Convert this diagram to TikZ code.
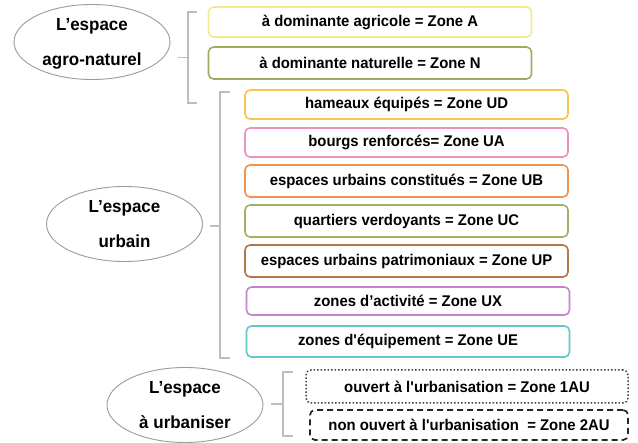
\documentclass[tikz,border=0pt]{standalone}
\usepackage{fontspec}
\setmainfont{Liberation Sans}
\usetikzlibrary{shapes.geometric}
\definecolor{cA}{HTML}{F3EA8C}
\definecolor{cN}{HTML}{9CAE5E}
\definecolor{cUD}{HTML}{F8C44E}
\definecolor{cUA}{HTML}{EF8FBC}
\definecolor{cUB}{HTML}{EE9550}
\definecolor{cUC}{HTML}{9DB463}
\definecolor{cUP}{HTML}{B07A48}
\definecolor{cUX}{HTML}{C386CB}
\definecolor{cUE}{HTML}{62C6CB}
\definecolor{brk}{HTML}{BDBDBD}
\definecolor{ell}{HTML}{9A9A9A}
\begin{document}
\begin{tikzpicture}[x=1pt,y=-1pt,
  zone/.style={draw=#1, line width=1.6pt, rounded corners=5pt, minimum width=323pt, inner sep=0pt,
    font=\bfseries\fontsize{15.5}{17}\selectfont\addfontfeatures{FakeStretch=0.96}},
  space/.style={draw=ell, line width=0.9pt, ellipse, minimum width=156pt, minimum height=75pt, inner sep=0pt,
    align=center, text depth=-8pt, font=\bfseries\fontsize{17.5}{34.5}\selectfont\addfontfeatures{FakeStretch=0.97}},
  bracket/.style={draw=brk, line width=1.4pt}]
\useasboundingbox (0,0) rectangle (638,443);
% ellipses
\node[space] (e1) at (92,42) {L’espace\\agro-naturel};
\node[space] (e2) at (124.5,224) {L’espace\\urbain};
\node[space] (e3) at (185,405) {L’espace\\à urbaniser};
% boxes
\node[zone=cA, minimum height=30pt] (zA) at (370,22) {à dominante agricole = Zone A};
\node[zone=cN, minimum height=32pt] (zN) at (370,63) {à dominante naturelle = Zone N};
\node[zone=cUD, minimum height=29pt] (zUD) at (406.5,104.5) {hameaux équipés = Zone UD};
\node[zone=cUA, minimum height=29pt] (zUA) at (406.5,142.5) {bourgs renforcés= Zone UA};
\node[zone=cUB, minimum height=32pt] (zUB) at (406.5,181) {espaces urbains constitués = Zone UB};
\node[zone=cUC, minimum height=32pt] (zUC) at (406.5,221) {quartiers verdoyants = Zone UC};
\node[zone=cUP, minimum height=32pt] (zUP) at (406.5,261) {espaces urbains patrimoniaux = Zone UP};
\node[zone=cUX, minimum height=28pt] (zUX) at (408,301) {zones d’activité = Zone UX};
\node[zone=cUE, minimum height=31pt] (zUE) at (408,341.5) {zones d\textquotesingle équipement = Zone UE};
\node[zone=black!75, line width=1.5pt, dotted, minimum width=322pt, minimum height=33pt] (z1) at (467,386.5) {ouvert à l\textquotesingle urbanisation = Zone 1AU};
\node[zone=black!85, line width=1.7pt, dash pattern=on 6pt off 4pt, minimum width=318pt, minimum height=30pt] (z2) at (469,425) {non ouvert à l\textquotesingle urbanisation \ = Zone 2AU};
% brackets
\coordinate (b1s) at (178,57.5); \coordinate (b1m) at (188,57.5);
\coordinate (b1t) at (197,12); \coordinate (b1b) at (197,103);
\draw[bracket] (b1s) -- (b1m);
\draw[bracket] (b1t) -| (b1m) |- (b1b);
\coordinate (b2s) at (210,226); \coordinate (b2m) at (220,226);
\coordinate (b2t) at (230,92); \coordinate (b2b) at (230,358);
\draw[bracket] (b2s) -- (b2m);
\draw[bracket] (b2t) -| (b2m) |- (b2b);
\coordinate (b3s) at (271,404); \coordinate (b3m) at (283,404);
\coordinate (b3t) at (293,372); \coordinate (b3b) at (293,436);
\draw[bracket] (b3s) -- (b3m);
\draw[bracket] (b3t) -| (b3m) |- (b3b);
\end{tikzpicture}
\end{document}
